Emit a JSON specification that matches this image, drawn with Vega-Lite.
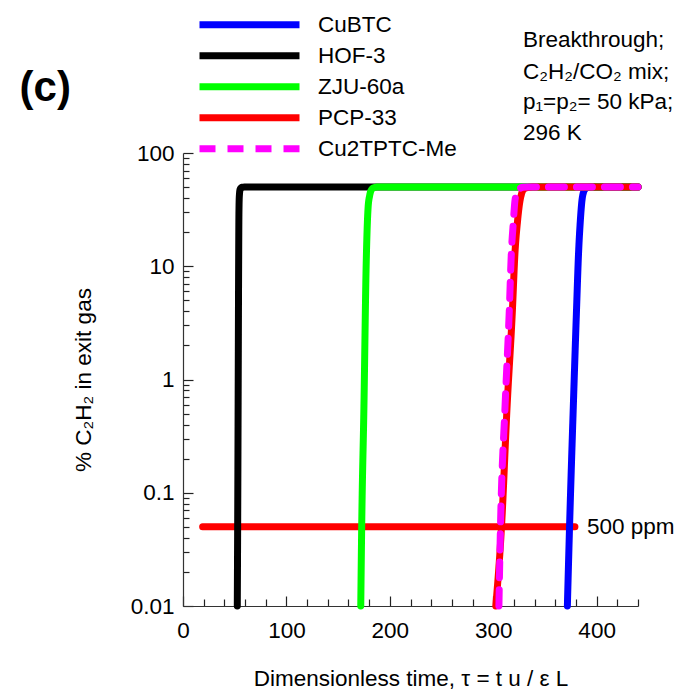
{
  "$schema": "https://vega.github.io/schema/vega-lite/v6.json",
  "width": 455,
  "height": 453,
  "autosize": {"type": "none"},
  "padding": {"left": 183, "top": 153, "right": 49, "bottom": 91},
  "background": "white",
  "config": {
    "font": "Liberation Sans",
    "view": {"stroke": null},
    "axis": {
      "domainColor": "#333333",
      "domainWidth": 1.2,
      "tickColor": "#333333",
      "tickWidth": 1,
      "gridColor": "#222222",
      "gridWidth": 1.2,
      "gridOpacity": 1,
      "labelColor": "black",
      "titleColor": "black",
      "labelFont": "Liberation Sans",
      "titleFont": "Liberation Sans",
      "labelFontSize": 22.5,
      "titleFontSize": 22.5,
      "titleFontWeight": "normal",
      "labelFlush": false,
      "labelBound": false
    }
  },
  "resolve": {"scale": {"x": "independent", "y": "independent"}, "axis": {"x": "independent", "y": "independent"}},
  "datasets": {
    "curves": [
      {"m": "CuBTC", "tau": 371.7, "pct": 0.01},
      {"m": "CuBTC", "tau": 373.8, "pct": 0.05},
      {"m": "CuBTC", "tau": 377.5, "pct": 0.6},
      {"m": "CuBTC", "tau": 380.5, "pct": 4},
      {"m": "CuBTC", "tau": 382.5, "pct": 13},
      {"m": "CuBTC", "tau": 384.2, "pct": 25},
      {"m": "CuBTC", "tau": 385.8, "pct": 38},
      {"m": "CuBTC", "tau": 387.3, "pct": 45},
      {"m": "CuBTC", "tau": 389.5, "pct": 48.5},
      {"m": "CuBTC", "tau": 392, "pct": 49.7},
      {"m": "CuBTC", "tau": 395, "pct": 50},
      {"m": "CuBTC", "tau": 440, "pct": 50},
      {"m": "HOF-3", "tau": 52.5, "pct": 0.01},
      {"m": "HOF-3", "tau": 53, "pct": 0.1},
      {"m": "HOF-3", "tau": 53.4, "pct": 1},
      {"m": "HOF-3", "tau": 53.8, "pct": 10},
      {"m": "HOF-3", "tau": 54.1, "pct": 30},
      {"m": "HOF-3", "tau": 54.5, "pct": 42},
      {"m": "HOF-3", "tau": 55.3, "pct": 48},
      {"m": "HOF-3", "tau": 57, "pct": 49.8},
      {"m": "HOF-3", "tau": 60, "pct": 50},
      {"m": "HOF-3", "tau": 440, "pct": 50},
      {"m": "ZJU-60a", "tau": 171.9, "pct": 0.01},
      {"m": "ZJU-60a", "tau": 172.8, "pct": 0.05},
      {"m": "ZJU-60a", "tau": 175, "pct": 0.6},
      {"m": "ZJU-60a", "tau": 177, "pct": 9},
      {"m": "ZJU-60a", "tau": 179, "pct": 33},
      {"m": "ZJU-60a", "tau": 180.5, "pct": 42},
      {"m": "ZJU-60a", "tau": 182, "pct": 47},
      {"m": "ZJU-60a", "tau": 184.5, "pct": 49.3},
      {"m": "ZJU-60a", "tau": 188, "pct": 50},
      {"m": "ZJU-60a", "tau": 440, "pct": 50},
      {"m": "PCP-33", "tau": 302.5, "pct": 0.01},
      {"m": "PCP-33", "tau": 308, "pct": 0.05},
      {"m": "PCP-33", "tau": 313.5, "pct": 0.6},
      {"m": "PCP-33", "tau": 318.5, "pct": 4},
      {"m": "PCP-33", "tau": 321, "pct": 13},
      {"m": "PCP-33", "tau": 323.5, "pct": 25},
      {"m": "PCP-33", "tau": 325.5, "pct": 36},
      {"m": "PCP-33", "tau": 327.5, "pct": 44},
      {"m": "PCP-33", "tau": 330, "pct": 48.3},
      {"m": "PCP-33", "tau": 334, "pct": 49.7},
      {"m": "PCP-33", "tau": 339, "pct": 50},
      {"m": "PCP-33", "tau": 440, "pct": 50},
      {"m": "Cu2TPTC-Me", "tau": 305.5, "pct": 0.01},
      {"m": "Cu2TPTC-Me", "tau": 307, "pct": 0.05},
      {"m": "Cu2TPTC-Me", "tau": 311.5, "pct": 0.6},
      {"m": "Cu2TPTC-Me", "tau": 315.5, "pct": 4},
      {"m": "Cu2TPTC-Me", "tau": 317.5, "pct": 13},
      {"m": "Cu2TPTC-Me", "tau": 319.5, "pct": 25},
      {"m": "Cu2TPTC-Me", "tau": 321, "pct": 38},
      {"m": "Cu2TPTC-Me", "tau": 323, "pct": 45},
      {"m": "Cu2TPTC-Me", "tau": 325.5, "pct": 48.5},
      {"m": "Cu2TPTC-Me", "tau": 329, "pct": 49.8},
      {"m": "Cu2TPTC-Me", "tau": 333, "pct": 50},
      {"m": "Cu2TPTC-Me", "tau": 440, "pct": 50}
    ],
    "threshold": [
      {"tau": 19, "pct": 0.05},
      {"tau": 379, "pct": 0.05}
    ],
    "notes": [
      {"tau": 328.8, "pct": 1005, "text": "Breakthrough;"},
      {"tau": 328.8, "pct": 519, "text": "C₂H₂/CO₂ mix;"},
      {"tau": 328.8, "pct": 282, "text": "p₁=p₂= 50 kPa;"},
      {"tau": 328.8, "pct": 150, "text": "296 K"},
      {"tau": 390.7, "pct": 0.05, "text": "500 ppm"}
    ],
    "panel": [
      {"tau": -158, "pct": 375, "text": "(c)"}
    ]
  },
  "layer": [
    {
      "data": {"name": "threshold"},
      "mark": {"type": "line", "color": "#ff0000", "strokeWidth": 7, "strokeCap": "round"},
      "encoding": {
        "x": {
          "field": "tau",
          "type": "quantitative",
          "scale": {"domain": [0, 440], "nice": false, "zero": false},
          "axis": {
            "orient": "bottom",
            "title": "Dimensionless time,  τ = t u / ε L",
            "values": [0, 100, 200, 300, 400],
            "grid": true,
            "gridDash": [10, 3000],
            "gridDashOffset": 2567,
            "ticks": false,
            "tickSize": 0,
            "labelOverlap": false,
            "labelPadding": 13,
            "titlePadding": 26
          }
        },
        "y": {
          "field": "pct",
          "type": "quantitative",
          "scale": {"type": "log", "domain": [0.01, 100], "nice": false},
          "axis": {
            "orient": "left",
            "title": "% C₂H₂ in exit gas",
            "values": [0.01, 0.1, 1, 10, 100],
            "format": "~g",
            "grid": true,
            "gridDash": [10, 3000],
            "ticks": false,
            "tickSize": 0,
            "labelOverlap": false,
            "labelPadding": 9,
            "titlePadding": 35
          }
        }
      }
    },
    {
      "data": {"name": "curves"},
      "mark": {"type": "line", "strokeWidth": 7, "strokeCap": "round", "strokeJoin": "round", "interpolate": "monotone"},
      "encoding": {
        "x": {
          "field": "tau",
          "type": "quantitative",
          "scale": {"domain": [0, 440], "nice": false, "zero": false},
          "axis": {
            "orient": "bottom",
            "title": null,
            "labels": false,
            "domain": false,
            "ticks": false,
            "grid": true,
            "gridDash": [7, 3000],
            "gridDashOffset": 2561,
            "values": [20, 40, 60, 80, 120, 140, 160, 180, 220, 240, 260, 280, 320, 340, 360, 380, 420, 440]
          }
        },
        "y": {
          "field": "pct",
          "type": "quantitative",
          "scale": {"type": "log", "domain": [0.01, 100], "nice": false},
          "axis": {
            "orient": "left",
            "title": null,
            "labels": false,
            "domain": false,
            "ticks": false,
            "grid": true,
            "gridDash": [6, 3000],
            "values": [0.02, 0.03, 0.04, 0.05, 0.06, 0.07, 0.08, 0.09, 0.2, 0.3, 0.4, 0.5, 0.6, 0.7, 0.8, 0.9, 2, 3, 4, 5, 6, 7, 8, 9, 20, 30, 40, 50, 60, 70, 80, 90]
          }
        },
        "color": {
          "field": "m",
          "type": "nominal",
          "scale": {"domain": ["CuBTC", "HOF-3", "ZJU-60a", "PCP-33", "Cu2TPTC-Me"], "range": ["#0000ff", "#000000", "#00ff00", "#ff0000", "#ff00ff"]},
          "legend": {
            "title": null,
            "orient": "none",
            "legendX": 13,
            "legendY": -143.6,
            "padding": 0,
            "symbolType": "stroke",
            "symbolSize": 10000,
            "symbolStrokeWidth": 7,
            "symbolOffset": 0,
            "clipHeight": 30.7,
            "rowPadding": 0,
            "labelFont": "Liberation Sans",
            "labelFontSize": 22.5,
            "labelColor": "black",
            "labelOffset": 15,
            "labelLimit": 300
          }
        },
        "strokeDash": {
          "field": "m",
          "type": "nominal",
          "scale": {"domain": ["CuBTC", "HOF-3", "ZJU-60a", "PCP-33", "Cu2TPTC-Me"], "range": [[1, 0], [1, 0], [1, 0], [1, 0], [16, 12]]},
          "legend": {
            "title": null,
            "orient": "none",
            "legendX": 13,
            "legendY": -143.6,
            "padding": 0,
            "symbolType": "stroke",
            "symbolSize": 10000,
            "symbolStrokeWidth": 7,
            "symbolOffset": 0,
            "clipHeight": 30.7,
            "rowPadding": 0,
            "labelFont": "Liberation Sans",
            "labelFontSize": 22.5,
            "labelColor": "black",
            "labelOffset": 15,
            "labelLimit": 300
          }
        }
      }
    },
    {
      "data": {"name": "notes"},
      "mark": {"type": "text", "align": "left", "baseline": "middle", "fontSize": 22.5, "font": "Liberation Sans", "color": "black"},
      "encoding": {
        "x": {"field": "tau", "type": "quantitative", "scale": {"domain": [0, 440], "nice": false, "zero": false}, "axis": null},
        "y": {"field": "pct", "type": "quantitative", "scale": {"type": "log", "domain": [0.01, 100], "nice": false}, "axis": null},
        "text": {"field": "text"}
      }
    },
    {
      "data": {"name": "panel"},
      "mark": {"type": "text", "align": "left", "baseline": "middle", "fontSize": 42, "fontWeight": "bold", "font": "Liberation Sans", "color": "black"},
      "encoding": {
        "x": {"field": "tau", "type": "quantitative", "scale": {"domain": [0, 440], "nice": false, "zero": false}, "axis": null},
        "y": {"field": "pct", "type": "quantitative", "scale": {"type": "log", "domain": [0.01, 100], "nice": false}, "axis": null},
        "text": {"field": "text"}
      }
    }
  ]
}
